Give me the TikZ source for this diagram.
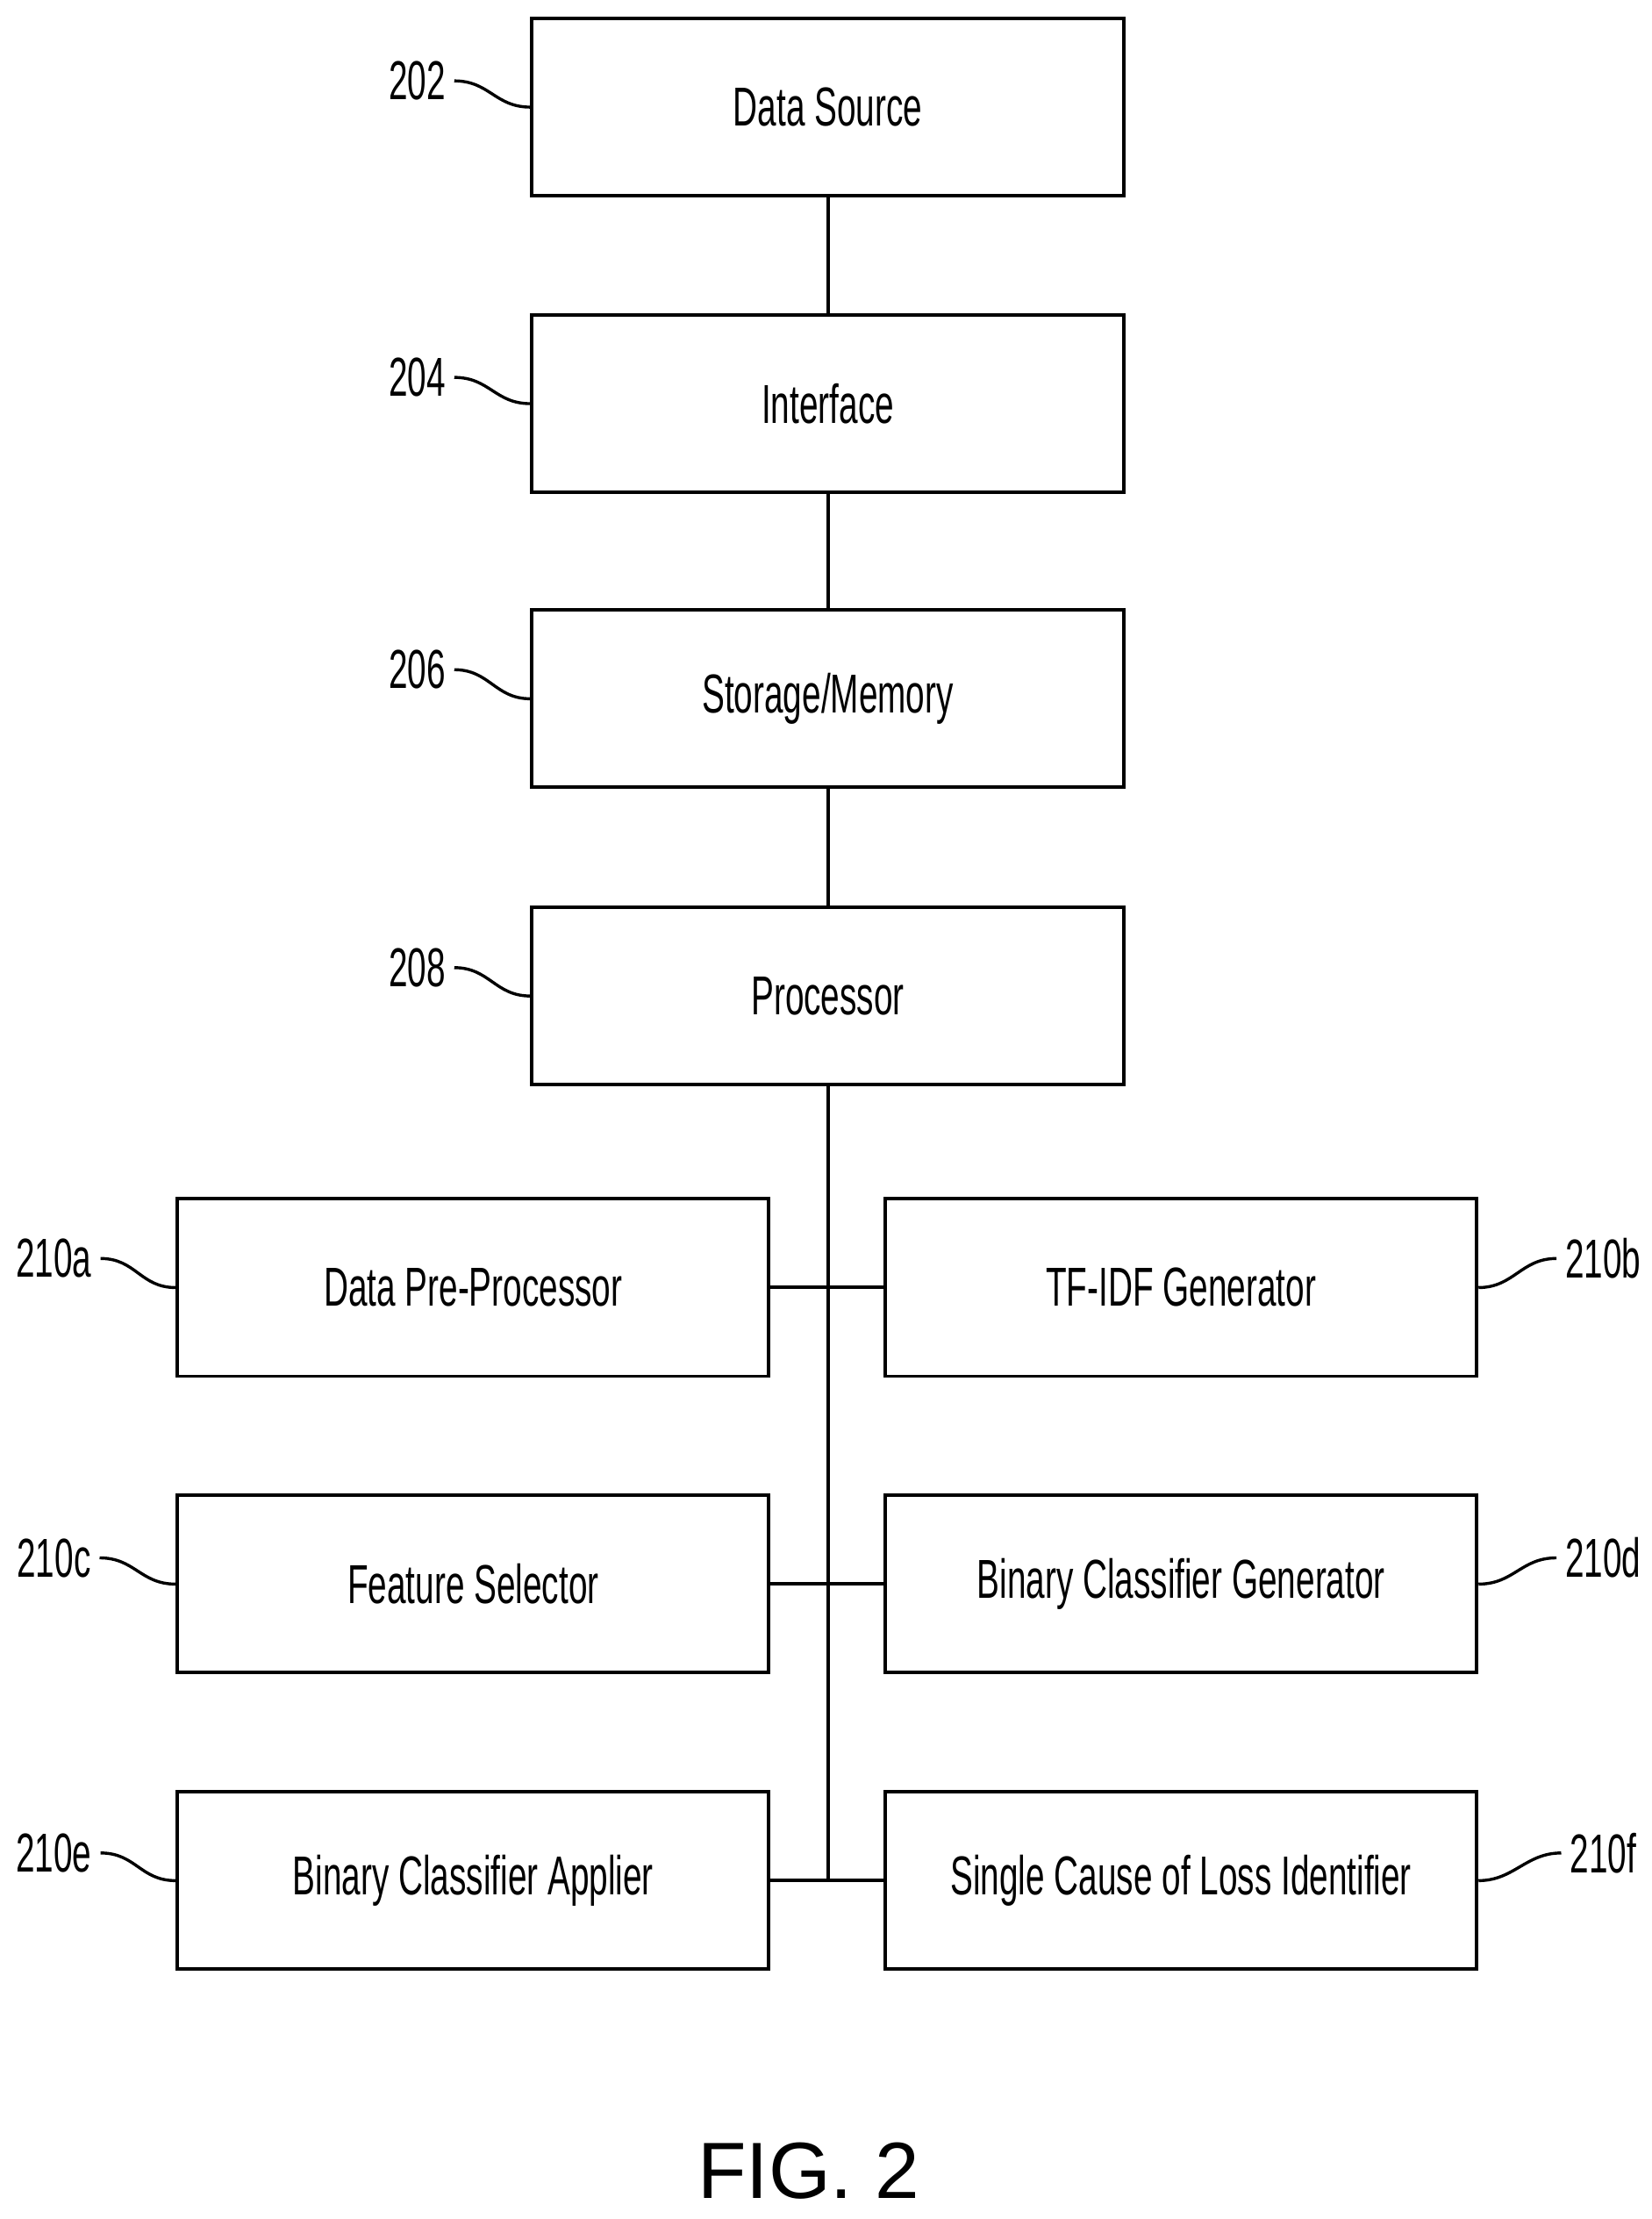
\documentclass[tikz,border=0pt]{standalone}
\usepackage{fontspec}
\setmainfont{Liberation Sans}[FakeStretch=0.62]
\newfontfamily\figfont{Liberation Sans}
\begin{document}
\begin{tikzpicture}[x=0.02cm,y=-0.02cm,
    blk/.style={draw,line width=1.4pt,minimum width=8.34cm,minimum height=2.5cm,font=\fontsize{22}{26}\selectfont},
    refnum/.style={font=\fontsize{22}{26}\selectfont},
    lead/.style={line width=1.2pt}]
  \useasboundingbox (0,0) rectangle (1164,1564);

  \node[blk] (ds) at (583.5, 75.5) {Data Source};
  \node[blk] (ifc) at (583.5, 284.5) {Interface};
  \node[blk] (mem) at (583.5, 492.5) {Storage/Memory};
  \node[blk] (proc) at (583.5, 702) {Processor};

  \node[blk] (pre) at (333.5, 907.5) {Data Pre-Processor};
  \node[blk] (tfidf) at (832.5, 907.5) {TF-IDF Generator};
  \node[blk] (feat) at (333.5, 1116.5) {Feature Selector};
  \node[blk] (bcg) at (832.5, 1116.5) {Binary Classifier Generator};
  \node[blk] (bca) at (333.5, 1325.5) {Binary Classifier Applier};
  \node[blk] (scl) at (832.5, 1325.5) {Single Cause of Loss Identifier};

  \node[refnum] (n202) at (294, 57) {202};
  \node[refnum] (n204) at (294, 266) {204};
  \node[refnum] (n206) at (294, 472) {206};
  \node[refnum] (n208) at (294, 682) {208};
  \node[refnum] (n210a) at (38, 887) {210a};
  \node[refnum] (n210b) at (1130, 887) {210b};
  \node[refnum] (n210c) at (38, 1098) {210c};
  \node[refnum] (n210d) at (1130, 1098) {210d};
  \node[refnum] (n210e) at (38, 1306) {210e};
  \node[refnum] (n210f) at (1130, 1306) {210f};

  \coordinate (j1) at (583.5, 907.5);
  \coordinate (j2) at (583.5, 1116.5);
  \coordinate (j3) at (583.5, 1325.5);

  \node[font=\figfont\fontsize{32}{36}\selectfont] (fig) at (570, 1530) {FIG. 2};

  \draw[line width=1.4pt] (ds) -- (ifc);
  \draw[line width=1.4pt] (ifc) -- (mem);
  \draw[line width=1.4pt] (mem) -- (proc);
  \draw[line width=1.4pt] (proc) -- (j3);
  \draw[line width=1.4pt] (pre) -- (tfidf);
  \draw[line width=1.4pt] (feat) -- (bcg);
  \draw[line width=1.4pt] (bca) -- (scl);

  \draw[lead] (n202.east) .. controls +(25,0) and +(-25,0) .. (ds.west);
  \draw[lead] (n204.east) .. controls +(25,0) and +(-25,0) .. (ifc.west);
  \draw[lead] (n206.east) .. controls +(25,0) and +(-25,0) .. (mem.west);
  \draw[lead] (n208.east) .. controls +(25,0) and +(-25,0) .. (proc.west);
  \draw[lead] (n210a.east) .. controls +(25,0) and +(-25,0) .. (pre.west);
  \draw[lead] (n210c.east) .. controls +(25,0) and +(-25,0) .. (feat.west);
  \draw[lead] (n210e.east) .. controls +(25,0) and +(-25,0) .. (bca.west);
  \draw[lead] (n210b.west) .. controls +(-25,0) and +(25,0) .. (tfidf.east);
  \draw[lead] (n210d.west) .. controls +(-25,0) and +(25,0) .. (bcg.east);
  \draw[lead] (n210f.west) .. controls +(-25,0) and +(25,0) .. (scl.east);
\end{tikzpicture}
\end{document}
